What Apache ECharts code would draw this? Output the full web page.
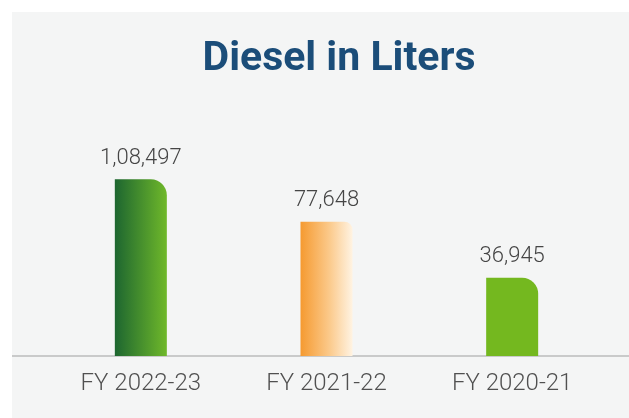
<!DOCTYPE html>
<html>
<head>
<meta charset="utf-8">
<title>Diesel in Liters</title>
<script src="https://cdn.jsdelivr.net/npm/echarts@6/dist/echarts.min.js"></script>
<style>
  html, body { margin: 0; padding: 0; background: #ffffff; }
  #chart { width: 629px; height: 418px; }
</style>
</head>
<body>
<div id="chart"></div>
<script>
// Fiscal years and diesel consumption (litres)
const years = ['FY 2022-23', 'FY 2021-22', 'FY 2020-21'];
const dieselLiters = [108497, 77648, 36945];

// Value axis range; bars rise from the bottom of the axis
const axisMin = -20000;
const axisMax = 140000;

// Indian digit grouping, e.g. 108497 -> 1,08,497
function formatIndian(n) {
  const s = String(Math.round(n));
  if (s.length <= 3) return s;
  const last3 = s.slice(-3);
  let rest = s.slice(0, -3);
  const parts = [];
  while (rest.length > 2) {
    parts.unshift(rest.slice(-2));
    rest = rest.slice(0, -2);
  }
  if (rest) parts.unshift(rest);
  return parts.join(',') + ',' + last3;
}

const barFills = [
  new echarts.graphic.LinearGradient(0, 0, 1, 0, [
    { offset: 0, color: '#1d6630' },
    { offset: 1, color: '#6fb82a' }
  ]),
  new echarts.graphic.LinearGradient(0, 0, 1, 0, [
    { offset: 0, color: '#f59a30' },
    { offset: 0.55, color: '#fbc98a' },
    { offset: 1, color: '#fff3e2' }
  ]),
  '#74b81f'
];
const barRadii = [16, 8, 16];
const barWidth = 52;

const chart = echarts.init(document.getElementById('chart'), null, { renderer: 'canvas' });

chart.setOption({
  backgroundColor: '#ffffff',
  animation: false,
  graphic: [
    {
      type: 'rect',
      z: -10,
      shape: { x: 12, y: 12, width: 617, height: 406 },
      style: { fill: '#f4f5f5' },
      silent: true
    },
    {
      type: 'line',
      z: 1,
      shape: { x1: 12, y1: 356, x2: 629, y2: 356 },
      style: { stroke: '#c9caca', lineWidth: 1.8 },
      silent: true
    }
  ],
  title: {
    text: 'Diesel in Liters',
    left: 334,
    top: 34,
    textAlign: 'center',
    textStyle: {
      fontFamily: 'Roboto',
      fontWeight: 700,
      fontSize: 41,
      color: '#1b4d79'
    }
  },
  grid: { left: 48, right: 24, top: 136, bottom: 62 },
  xAxis: {
    type: 'category',
    data: years,
    axisLine: { show: false },
    axisTick: { show: false },
    axisLabel: {
      margin: 16,
      fontFamily: 'Roboto',
      fontWeight: 300,
      fontSize: 24,
      color: '#505050'
    }
  },
  yAxis: {
    type: 'value',
    min: axisMin,
    max: axisMax,
    show: false,
    splitLine: { show: false }
  },
  series: [{
    type: 'custom',
    data: dieselLiters.map((v, i) => [i, v]),
    renderItem: function (params, api) {
      const i = api.value(0);
      const v = api.value(1);
      const top = api.coord([i, v]);
      const base = api.coord([i, axisMin]);
      const r = barRadii[i];
      return {
        type: 'rect',
        shape: {
          x: top[0] - barWidth / 2,
          y: top[1],
          width: barWidth,
          height: base[1] - top[1],
          r: [0, r, 0, 0]
        },
        style: { fill: barFills[i] },
        textContent: {
          style: {
            text: formatIndian(v),
            fontFamily: 'Roboto',
            fontWeight: 300,
            fontSize: 22,
            fill: '#454545'
          }
        },
        textConfig: { position: 'top', distance: 10 }
      };
    }
  }]
});
</script>
</body>
</html>
